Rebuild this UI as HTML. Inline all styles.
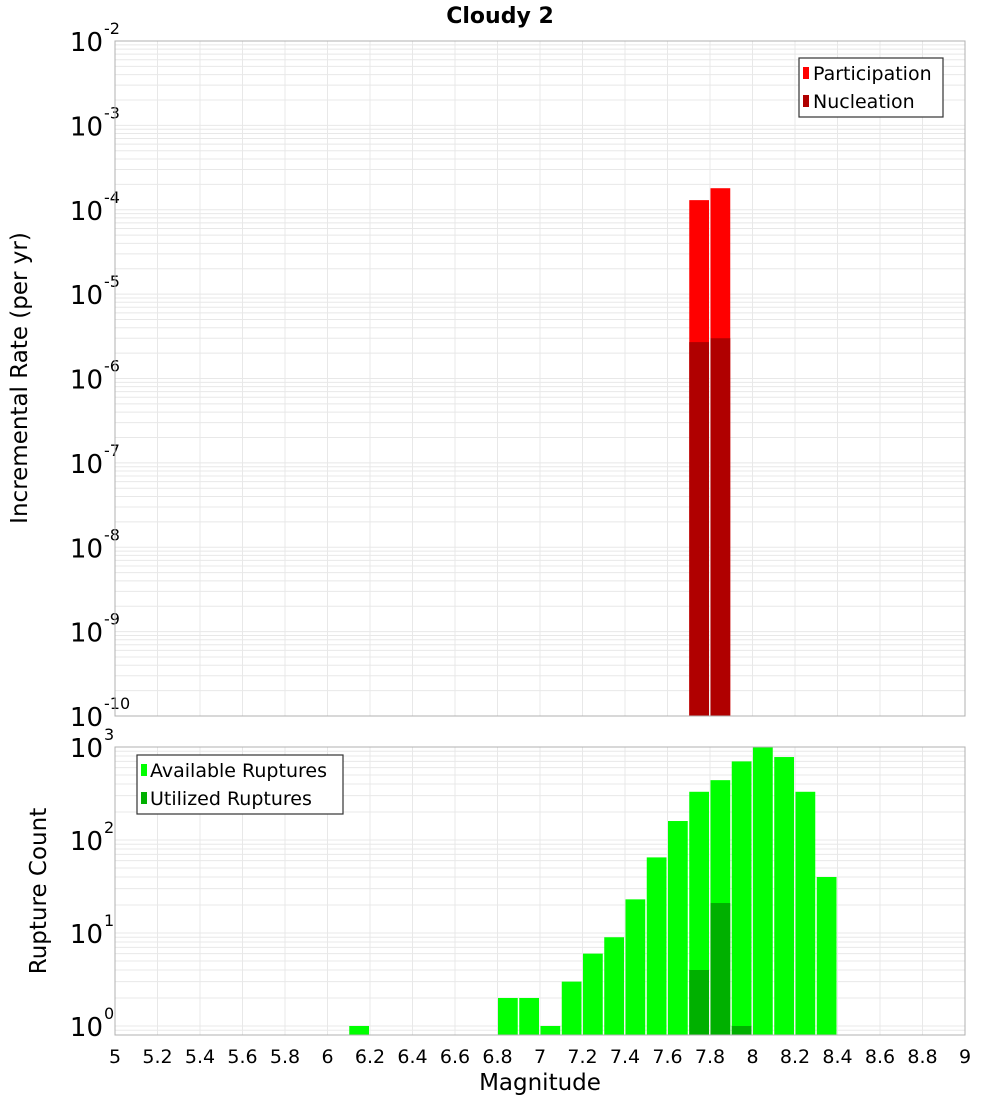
<!DOCTYPE html>
<html><head><meta charset="utf-8"><style>
body{margin:0;background:#fff;}
svg text{font-family:"DejaVu Sans","Liberation Sans",sans-serif;}
</style></head><body>
<svg id="chart" width="1000" height="1100" xmlns="http://www.w3.org/2000/svg">
<text x="500" y="23" text-anchor="middle" font-size="22" font-weight="bold">Cloudy 2</text>
<g id="top"></g>
<g id="bot"></g>
<text transform="translate(27,378) rotate(-90)" text-anchor="middle" font-size="23">Incremental Rate (per yr)</text>
<text transform="translate(46,891) rotate(-90)" text-anchor="middle" font-size="23">Rupture Count</text>
<text x="540" y="1090" text-anchor="middle" font-size="23">Magnitude</text>
<g>
<rect x="799" y="58" width="144" height="59" fill="#fff" stroke="#333" stroke-width="1.2"/>
<rect x="803" y="67" width="6" height="12" fill="#ff0000"/>
<text x="813" y="80" font-size="19">Participation</text>
<rect x="803" y="95" width="6" height="12" fill="#b00000"/>
<text x="813" y="108" font-size="19">Nucleation</text>
</g>
<g>
<rect x="137" y="755" width="206" height="59" fill="#fff" stroke="#333" stroke-width="1.2"/>
<rect x="141" y="764" width="6" height="12" fill="#00ff00"/>
<text x="150" y="777" font-size="19">Available Ruptures</text>
<rect x="141" y="792" width="6" height="12" fill="#00b000"/>
<text x="150" y="805" font-size="19">Utilized Ruptures</text>
</g>
</svg>
<script>
const topMags=[7.75,7.85];
const participation=[1.3e-4,1.8e-4];
const nucleation=[2.7e-6,3.0e-6];
const botMags=[6.15,6.85,6.95,7.05,7.15,7.25,7.35,7.45,7.55,7.65,7.75,7.85,7.95,8.05,8.15,8.25,8.35];
const available=[1,2,2,1,3,6,9,23,65,160,330,440,700,1000,780,330,40];
const utilMags=[7.75,7.85,7.95];
const utilized=[4,21,1];
const xTicks=["5","5.2","5.4","5.6","5.8","6","6.2","6.4","6.6","6.8","7","7.2","7.4","7.6","7.8","8","8.2","8.4","8.6","8.8","9"];
const NS="http://www.w3.org/2000/svg";
const X0=115,X1=965;
const xs=m=>X0+(m-5)/4*(X1-X0);
function mk(p,t,a){const e=document.createElementNS(NS,t);for(const k in a)e.setAttribute(k,a[k]);p.appendChild(e);return e;}
function panel(g,y0,y1,lmin,lmax,name){
 const ys=v=>y1-(Math.log10(v)-lmin)/(lmax-lmin)*(y1-y0);
 for(let d=Math.floor(lmin);d<lmax;d++)for(let k=1;k<10;k++){const v=k*Math.pow(10,d);const l=Math.log10(v);if(l<lmin||l>lmax)continue;
  const ln=mk(g,'line',{x1:X0,x2:X1,y1:ys(v),y2:ys(v),stroke:'#e8e8e8','stroke-width':1});
  
  }
 xTicks.forEach(t=>{const x=xs(+t);const ln=mk(g,'line',{x1:x,x2:x,y1:y0,y2:y1,stroke:'#e8e8e8','stroke-width':1});
  
  });
 for(let d=Math.ceil(lmin);d<=lmax;d++){const y=ys(Math.pow(10,d));
  const t=mk(g,'text',{x:103,y:y+10,'text-anchor':'end','font-size':26});t.textContent='10';
  
  
  const s=mk(g,'text',{x:104,y:y-7,'font-size':16});s.textContent=String(d);
  
  }
 return ys;
}
function bar(g,m,v,ys,y1,col,name){const x=xs(m-0.05)+0.5,w=xs(m+0.05)-xs(m-0.05)-1.5;const y=ys(v);
 const r=mk(g,'rect',{x:x,y:y,width:w,height:y1-y,fill:col});
 
 }
const gt=document.getElementById('top'),gb=document.getElementById('bot');
const ysT=panel(gt,41,716,-10,-2,'top');
topMags.forEach((m,i)=>bar(gt,m,participation[i],ysT,716,'#ff0000','participation-bar'));
topMags.forEach((m,i)=>bar(gt,m,nucleation[i],ysT,716,'#b00000','nucleation-bar'));
mk(gt,'rect',{x:X0,y:41,width:X1-X0,height:675,fill:'none',stroke:'#b0b0b0'});
const ysB=panel(gb,747,1035,Math.log10(0.8),3,'bottom');
botMags.forEach((m,i)=>bar(gb,m,available[i],ysB,1035,'#00ff00','available-bar'));
utilMags.forEach((m,i)=>bar(gb,m,utilized[i],ysB,1035,'#00b000','utilized-bar'));
mk(gb,'rect',{x:X0,y:747,width:X1-X0,height:288,fill:'none',stroke:'#b0b0b0'});
xTicks.forEach(t=>{const e=mk(gb,'text',{x:xs(+t),y:1063,'text-anchor':'middle','font-size':19});e.textContent=t;
 
 });
</script>
</body></html>
